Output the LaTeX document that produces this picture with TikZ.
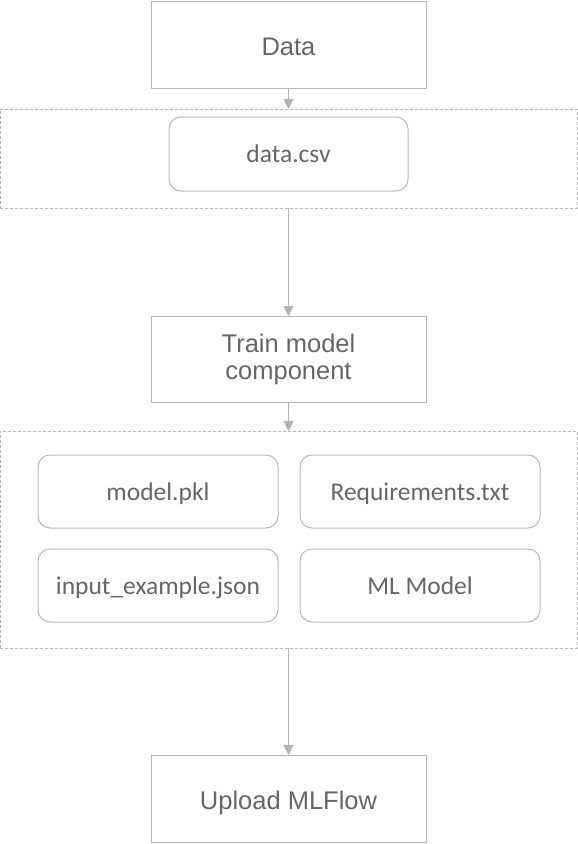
\documentclass[tikz,border=0pt]{standalone}
\usepackage{fontspec}
\setmainfont{Liberation Sans}
\newfontfamily\calfont{Carlito}
\usetikzlibrary{arrows.meta}
\definecolor{txtgray}{HTML}{666666}
\definecolor{boxgray}{HTML}{B8B8B8}
\definecolor{arrgray}{HTML}{B3B3B3}
\tikzset{
  sqbase/.style={draw=boxgray, line width=1pt, inner sep=0pt, outer sep=0pt, text=txtgray, align=center, font=\fontsize{25.5}{27}\selectfont},
  sqbox/.style={sqbase, text height=22pt, text depth=0pt},
  rbox/.style={draw=boxgray, line width=1pt, rounded corners=12pt, inner sep=0pt, outer sep=0pt, text=txtgray, font=\calfont\fontsize{25.5}{28}\selectfont, minimum width=240pt, minimum height=73pt, text height=17pt, text depth=0pt},
  groupbox/.style={draw=boxgray, line width=0.8pt, dash pattern=on 3pt off 2pt, inner sep=0pt, outer sep=0pt},
  conn/.style={draw=arrgray, line width=1pt, -{Triangle[width=10pt,length=10pt]}}
}
\begin{document}
\begin{tikzpicture}[x=1pt,y=-1pt]
\useasboundingbox (0,0) rectangle (578,844);
\node[sqbox, minimum width=275pt, minimum height=87pt] (data) at (288.5,44.5) {Data};
\node[groupbox, minimum width=577pt, minimum height=99pt] (g1) at (288.5,158.5) {};
\node[rbox, minimum width=239pt, minimum height=74pt, text height=16pt] (csv) at (288.5,154) {data.csv};
\node[sqbase, minimum width=275pt, minimum height=86pt] (train) at (288.5,359) {Train model\\component};
\node[groupbox, minimum width=577pt, minimum height=217pt] (g2) at (288.5,539.5) {};
\node[rbox] (pkl) at (158,491.5) {model.pkl};
\node[rbox] (req) at (420,491.5) {Requirements.txt};
\node[rbox] (inp) at (158,585.5) {input\_example.json};
\node[rbox] (ml) at (420,585.5) {ML Model};
\node[sqbox, minimum width=275pt, minimum height=87pt] (up) at (288.5,798.5) {Upload MLFlow};
\draw[conn] (data) -- (g1);
\draw[conn] (g1) -- (train);
\draw[conn] (train) -- (g2);
\draw[conn] (g2) -- (up);
\end{tikzpicture}
\end{document}
